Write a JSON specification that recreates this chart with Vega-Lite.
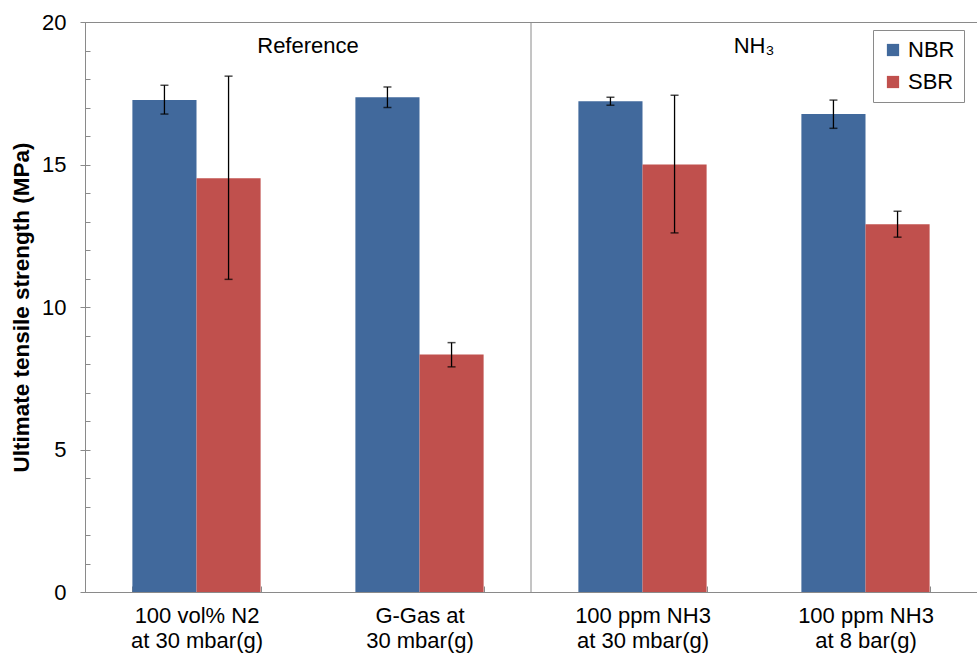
{
  "$schema": "https://vega.github.io/schema/vega-lite/v6.json",
  "width": 892,
  "height": 570,
  "autosize": {"type": "none"},
  "padding": {"left": 85, "top": 22, "right": 0, "bottom": 63},
  "config": {
    "font": "Liberation Sans",
    "view": {"stroke": "#8a8a8a", "strokeWidth": 1},
    "axis": {"domainColor": "#8a8a8a", "tickColor": "#8a8a8a", "labelColor": "#000", "titleColor": "#000", "grid": false}
  },
  "datasets": {
    "bars": [
      {"cat": "100 vol% N2\nat 30 mbar(g)", "series": "NBR", "value": 17.26, "lo": 16.77, "hi": 17.78},
      {"cat": "100 vol% N2\nat 30 mbar(g)", "series": "SBR", "value": 14.52, "lo": 10.97, "hi": 18.1},
      {"cat": "G-Gas at\n30 mbar(g)", "series": "NBR", "value": 17.36, "lo": 17.0, "hi": 17.72},
      {"cat": "G-Gas at\n30 mbar(g)", "series": "SBR", "value": 8.33, "lo": 7.9, "hi": 8.75},
      {"cat": "100 ppm NH3\nat 30 mbar(g)", "series": "NBR", "value": 17.22, "lo": 17.08, "hi": 17.36},
      {"cat": "100 ppm NH3\nat 30 mbar(g)", "series": "SBR", "value": 15.0, "lo": 12.6, "hi": 17.43},
      {"cat": "100 ppm NH3\nat 8 bar(g)", "series": "NBR", "value": 16.77, "lo": 16.27, "hi": 17.26},
      {"cat": "100 ppm NH3\nat 8 bar(g)", "series": "SBR", "value": 12.9, "lo": 12.45, "hi": 13.36}
    ],
    "groups": [
      {"pos": 1, "label": "Reference", "ly": 19.15},
      {"pos": 3, "label": "NH₃", "ly": 19.15}
    ]
  },
  "layer": [
    {
      "data": {"name": "bars"},
      "encoding": {
        "x": {
          "field": "cat", "type": "nominal", "sort": null,
          "scale": {"paddingInner": 0.425, "paddingOuter": 0.2125},
          "axis": {
            "title": null, "labelAngle": 0, "labelFontSize": 22, "labelPadding": 19,
            "labelExpr": "split(datum.label, '\\n')", "labelLineHeight": 25,
            "tickBand": "extent", "tickSize": -6, "labelBaseline": "top"
          }
        },
        "xOffset": {"field": "series", "type": "nominal", "sort": ["NBR", "SBR"], "scale": {"paddingInner": 0, "paddingOuter": 0}}
      },
      "layer": [
        {
          "mark": {"type": "bar"},
          "encoding": {
            "y": {
              "field": "value", "type": "quantitative",
              "scale": {"domain": [0, 20], "nice": false},
              "axis": {
                "title": "Ultimate tensile strength (MPa)", "titleFontSize": 22.5, "titleFontWeight": "bold",
                "titlePadding": 8, "values": [0, 5, 10, 15, 20], "tickSize": 5, "labelFontSize": 22, "labelPadding": 14
              }
            },
            "color": {
              "field": "series", "type": "nominal",
              "scale": {"domain": ["NBR", "SBR"], "range": ["#41699c", "#c0504d"]},
              "legend": {
                "title": null, "orient": "none", "legendX": 788, "legendY": 8,
                "strokeColor": "#8a8a8a", "fillColor": "#ffffff", "padding": 9,
                "symbolType": "square", "symbolSize": 150, "symbolStrokeWidth": 0,
                "labelFontSize": 22, "rowPadding": 10, "labelOffset": 4
              }
            }
          }
        },
        {
          "mark": {"type": "rule", "color": "#000", "strokeWidth": 1.3},
          "encoding": {
            "y": {"field": "lo", "type": "quantitative"},
            "y2": {"field": "hi"}
          }
        },
        {
          "mark": {"type": "tick", "color": "#000", "size": 8, "thickness": 1.5, "orient": "horizontal"},
          "encoding": {"y": {"field": "lo", "type": "quantitative"}}
        },
        {
          "mark": {"type": "tick", "color": "#000", "size": 8, "thickness": 1.5, "orient": "horizontal"},
          "encoding": {"y": {"field": "hi", "type": "quantitative"}}
        }
      ]
    },
    {
      "data": {"name": "groups"},
      "layer": [
        {
          "transform": [{"filter": "datum.pos == 1"}],
          "mark": {"type": "rule", "color": "#8a8a8a", "strokeWidth": 1},
          "encoding": {
            "x": {"datum": 2, "type": "quantitative", "scale": {"domain": [0, 4], "nice": false, "zero": false}, "axis": null}
          }
        },
        {
          "mark": {"type": "text", "fontSize": 22, "color": "#000", "baseline": "middle", "align": "center"},
          "encoding": {
            "x": {"field": "pos", "type": "quantitative", "scale": {"domain": [0, 4], "nice": false, "zero": false}, "axis": null},
            "y": {"field": "ly", "type": "quantitative", "axis": null},
            "text": {"field": "label"}
          }
        }
      ]
    },
    {
      "data": {"values": [{"v": 0}]},
      "mark": {"type": "rule", "opacity": 0},
      "encoding": {
        "y": {
          "field": "v", "type": "quantitative",
          "axis": {
            "orient": "left", "title": null, "labels": false, "domain": false,
            "values": [1,2,3,4,5,6,7,8,9,10,11,12,13,14,15,16,17,18,19,20], "tickSize": -5
          }
        }
      }
    }
  ],
  "resolve": {"scale": {"x": "independent"}, "axis": {"y": "independent"}}
}
